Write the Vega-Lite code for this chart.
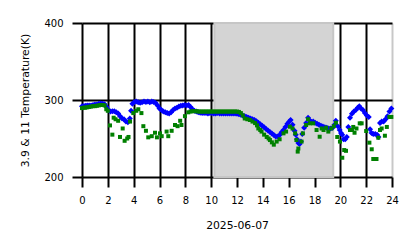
{
  "$schema": "https://vega.github.io/schema/vega-lite/v6.json",
  "width": 310,
  "height": 154,
  "autosize": {"type": "none"},
  "padding": {"left": 82, "top": 23, "right": 26, "bottom": 71},
  "background": "white",
  "config": {
    "view": {"stroke": null},
    "axis": {
      "grid": true, "gridWidth": 2, "domain": false,
      "tickSize": 10, "tickWidth": 2, "tickColor": "black",
      "labelFont": "DejaVu Sans", "labelFontSize": 10, "labelColor": "black",
      "labelFlush": false, "labelOverlap": false,
      "titleFont": "DejaVu Sans", "titleFontSize": 10.8, "titleFontWeight": "normal", "titleColor": "black",
      "zindex": 1
    }
  },
  "datasets": {
    "shade": [{"x1": 10.25, "x2": 19.45}],
    "pts": [
      {"s":"b","h":0.0,"t":292},{"s":"b","h":0.12,"t":292},{"s":"b","h":0.25,"t":292.5},{"s":"b","h":0.4,"t":293},{"s":"b","h":0.55,"t":293},{"s":"b","h":0.7,"t":293},{"s":"b","h":0.85,"t":293.5},{"s":"b","h":1.0,"t":294},{"s":"b","h":1.15,"t":294},{"s":"b","h":1.3,"t":295},{"s":"b","h":1.45,"t":295.5},{"s":"b","h":1.6,"t":295},{"s":"b","h":1.75,"t":294.5},{"s":"b","h":1.9,"t":291},{"s":"b","h":2.05,"t":287},{"s":"b","h":2.2,"t":285},{"s":"b","h":2.35,"t":285.5},{"s":"b","h":2.5,"t":285.5},{"s":"b","h":2.65,"t":284},{"s":"b","h":2.8,"t":282.5},{"s":"b","h":2.95,"t":279},{"s":"b","h":3.1,"t":276},{"s":"b","h":3.25,"t":275},{"s":"b","h":3.4,"t":272},{"s":"b","h":3.55,"t":271},{"s":"b","h":3.7,"t":276},{"s":"b","h":3.8,"t":286},{"s":"b","h":3.9,"t":295},{"s":"b","h":4.05,"t":297.5},{"s":"b","h":4.2,"t":298},{"s":"b","h":4.35,"t":297},{"s":"b","h":4.5,"t":296.5},{"s":"b","h":4.65,"t":297},{"s":"b","h":4.8,"t":298},{"s":"b","h":4.95,"t":297.5},{"s":"b","h":5.1,"t":298},{"s":"b","h":5.25,"t":297},{"s":"b","h":5.4,"t":298},{"s":"b","h":5.55,"t":297.5},{"s":"b","h":5.7,"t":296},{"s":"b","h":5.85,"t":293},{"s":"b","h":6.0,"t":289},{"s":"b","h":6.15,"t":287},{"s":"b","h":6.3,"t":285},{"s":"b","h":6.45,"t":284},{"s":"b","h":6.6,"t":283},{"s":"b","h":6.75,"t":282.5},{"s":"b","h":6.9,"t":284},{"s":"b","h":7.05,"t":287},{"s":"b","h":7.2,"t":289},{"s":"b","h":7.35,"t":290},{"s":"b","h":7.5,"t":291.5},{"s":"b","h":7.65,"t":292.5},{"s":"b","h":7.8,"t":293},{"s":"b","h":7.95,"t":293.5},{"s":"b","h":8.1,"t":293},{"s":"b","h":8.25,"t":293.5},{"s":"b","h":8.4,"t":291},{"s":"b","h":8.55,"t":288},{"s":"b","h":8.7,"t":286},{"s":"b","h":8.85,"t":285},{"s":"b","h":9.0,"t":284},{"s":"b","h":9.15,"t":283.5},{"s":"b","h":9.3,"t":283},{"s":"b","h":9.45,"t":283},{"s":"b","h":9.6,"t":283},{"s":"b","h":9.75,"t":282.5},{"s":"b","h":9.9,"t":283},{"s":"b","h":10.05,"t":283},{"s":"b","h":10.2,"t":282.5},{"s":"b","h":10.35,"t":282.5},{"s":"b","h":10.5,"t":283},{"s":"b","h":10.65,"t":282.5},{"s":"b","h":10.8,"t":282.5},{"s":"b","h":10.95,"t":282.5},{"s":"b","h":11.1,"t":282.5},{"s":"b","h":11.25,"t":282.5},{"s":"b","h":11.4,"t":282.5},{"s":"b","h":11.55,"t":282.5},{"s":"b","h":11.7,"t":282.5},{"s":"b","h":11.85,"t":282.5},{"s":"b","h":12.0,"t":282},{"s":"b","h":12.15,"t":281.5},{"s":"b","h":12.3,"t":281},{"s":"b","h":12.45,"t":280},{"s":"b","h":12.6,"t":279},{"s":"b","h":12.75,"t":278},{"s":"b","h":12.9,"t":277},{"s":"b","h":13.05,"t":276},{"s":"b","h":13.2,"t":275},{"s":"b","h":13.35,"t":274},{"s":"b","h":13.5,"t":272.5},{"s":"b","h":13.65,"t":270.5},{"s":"b","h":13.8,"t":268.5},{"s":"b","h":13.95,"t":266.5},{"s":"b","h":14.1,"t":264.5},{"s":"b","h":14.25,"t":262.5},{"s":"b","h":14.4,"t":260.5},{"s":"b","h":14.55,"t":258.5},{"s":"b","h":14.7,"t":256.5},{"s":"b","h":14.85,"t":254.5},{"s":"b","h":15.0,"t":252.5},{"s":"b","h":15.15,"t":252.5},{"s":"b","h":15.3,"t":254.5},{"s":"b","h":15.45,"t":258},{"s":"b","h":15.6,"t":261},{"s":"b","h":15.75,"t":265},{"s":"b","h":15.9,"t":269},{"s":"b","h":16.05,"t":272},{"s":"b","h":16.15,"t":274},{"s":"b","h":16.3,"t":268},{"s":"b","h":16.45,"t":260},{"s":"b","h":16.55,"t":255},{"s":"b","h":16.65,"t":249},{"s":"b","h":16.75,"t":244},{"s":"b","h":16.85,"t":243},{"s":"b","h":16.95,"t":246},{"s":"b","h":17.05,"t":256},{"s":"b","h":17.2,"t":264},{"s":"b","h":17.35,"t":270},{"s":"b","h":17.5,"t":277},{"s":"b","h":17.6,"t":274},{"s":"b","h":17.75,"t":271.5},{"s":"b","h":17.9,"t":272},{"s":"b","h":18.05,"t":270.5},{"s":"b","h":18.2,"t":269},{"s":"b","h":18.35,"t":268},{"s":"b","h":18.5,"t":266.5},{"s":"b","h":18.65,"t":265.5},{"s":"b","h":18.8,"t":264.5},{"s":"b","h":18.95,"t":264},{"s":"b","h":19.1,"t":263},{"s":"b","h":19.25,"t":263},{"s":"b","h":19.4,"t":264},{"s":"b","h":19.55,"t":268},{"s":"b","h":19.65,"t":273},{"s":"b","h":19.8,"t":266},{"s":"b","h":19.95,"t":261},{"s":"b","h":20.05,"t":257},{"s":"b","h":20.15,"t":255},{"s":"b","h":20.25,"t":249},{"s":"b","h":20.38,"t":249},{"s":"b","h":20.5,"t":252},{"s":"b","h":20.62,"t":265},{"s":"b","h":20.75,"t":277},{"s":"b","h":20.9,"t":282},{"s":"b","h":21.05,"t":285},{"s":"b","h":21.2,"t":287},{"s":"b","h":21.35,"t":290},{"s":"b","h":21.47,"t":292},{"s":"b","h":21.6,"t":289},{"s":"b","h":21.75,"t":287},{"s":"b","h":21.9,"t":283},{"s":"b","h":22.05,"t":280},{"s":"b","h":22.2,"t":278},{"s":"b","h":22.3,"t":262},{"s":"b","h":22.42,"t":257},{"s":"b","h":22.55,"t":256},{"s":"b","h":22.7,"t":256},{"s":"b","h":22.85,"t":255},{"s":"b","h":22.95,"t":252},{"s":"b","h":23.07,"t":270},{"s":"b","h":23.2,"t":272},{"s":"b","h":23.35,"t":272},{"s":"b","h":23.5,"t":275},{"s":"b","h":23.65,"t":279},{"s":"b","h":23.8,"t":285},{"s":"b","h":23.95,"t":289},
      {"s":"g","h":0.0,"t":289.5},{"s":"g","h":0.12,"t":290},{"s":"g","h":0.25,"t":290},{"s":"g","h":0.4,"t":290.5},{"s":"g","h":0.55,"t":291},{"s":"g","h":0.7,"t":291.5},{"s":"g","h":0.85,"t":292},{"s":"g","h":1.0,"t":292},{"s":"g","h":1.15,"t":292.5},{"s":"g","h":1.3,"t":293},{"s":"g","h":1.45,"t":293.5},{"s":"g","h":1.6,"t":293.5},{"s":"g","h":1.75,"t":293},{"s":"g","h":1.88,"t":288},{"s":"g","h":2.0,"t":286},{"s":"g","h":2.17,"t":267},{"s":"g","h":2.35,"t":255},{"s":"g","h":2.45,"t":277},{"s":"g","h":2.6,"t":275},{"s":"g","h":2.8,"t":273},{"s":"g","h":2.94,"t":252},{"s":"g","h":3.15,"t":263},{"s":"g","h":3.3,"t":247},{"s":"g","h":3.5,"t":250},{"s":"g","h":3.6,"t":252},{"s":"g","h":3.72,"t":272},{"s":"g","h":3.97,"t":283},{"s":"g","h":4.2,"t":286},{"s":"g","h":4.36,"t":288},{"s":"g","h":4.6,"t":283},{"s":"g","h":4.75,"t":266},{"s":"g","h":4.95,"t":260},{"s":"g","h":5.13,"t":251.5},{"s":"g","h":5.4,"t":253},{"s":"g","h":5.65,"t":257.5},{"s":"g","h":5.8,"t":251.5},{"s":"g","h":6.04,"t":256.7},{"s":"g","h":6.17,"t":253},{"s":"g","h":6.55,"t":259},{"s":"g","h":6.68,"t":253},{"s":"g","h":6.94,"t":260},{"s":"g","h":7.2,"t":267.5},{"s":"g","h":7.4,"t":266},{"s":"g","h":7.6,"t":273},{"s":"g","h":7.7,"t":267.5},{"s":"g","h":7.97,"t":279},{"s":"g","h":8.23,"t":284},{"s":"g","h":8.4,"t":285},{"s":"g","h":8.55,"t":285.5},{"s":"g","h":8.7,"t":285.5},{"s":"g","h":8.85,"t":285.5},{"s":"g","h":9.0,"t":285},{"s":"g","h":9.15,"t":285},{"s":"g","h":9.3,"t":285},{"s":"g","h":9.45,"t":285},{"s":"g","h":9.6,"t":285},{"s":"g","h":9.75,"t":285},{"s":"g","h":9.9,"t":285},{"s":"g","h":10.05,"t":285},{"s":"g","h":10.2,"t":285},{"s":"g","h":10.35,"t":285},{"s":"g","h":10.5,"t":285},{"s":"g","h":10.65,"t":285},{"s":"g","h":10.8,"t":285},{"s":"g","h":10.95,"t":285},{"s":"g","h":11.1,"t":285},{"s":"g","h":11.25,"t":285},{"s":"g","h":11.4,"t":285},{"s":"g","h":11.55,"t":285},{"s":"g","h":11.7,"t":285},{"s":"g","h":11.85,"t":285},{"s":"g","h":12.0,"t":285},{"s":"g","h":12.15,"t":284.5},{"s":"g","h":12.3,"t":283},{"s":"g","h":12.45,"t":280},{"s":"g","h":12.6,"t":276},{"s":"g","h":12.8,"t":275},{"s":"g","h":13.0,"t":274},{"s":"g","h":13.2,"t":272},{"s":"g","h":13.4,"t":270},{"s":"g","h":13.55,"t":267},{"s":"g","h":13.65,"t":263},{"s":"g","h":13.8,"t":261},{"s":"g","h":13.9,"t":259},{"s":"g","h":14.1,"t":255},{"s":"g","h":14.3,"t":252},{"s":"g","h":14.45,"t":250},{"s":"g","h":14.55,"t":248},{"s":"g","h":14.7,"t":245},{"s":"g","h":14.85,"t":242},{"s":"g","h":15.07,"t":246},{"s":"g","h":15.3,"t":249},{"s":"g","h":15.6,"t":256.7},{"s":"g","h":15.8,"t":259},{"s":"g","h":16.1,"t":265.3},{"s":"g","h":16.3,"t":263},{"s":"g","h":16.5,"t":256.7},{"s":"g","h":16.6,"t":248},{"s":"g","h":16.7,"t":233},{"s":"g","h":16.75,"t":237},{"s":"g","h":17.0,"t":246},{"s":"g","h":17.1,"t":256.7},{"s":"g","h":17.35,"t":267.5},{"s":"g","h":17.5,"t":275},{"s":"g","h":17.65,"t":269.7},{"s":"g","h":17.9,"t":269.7},{"s":"g","h":18.16,"t":261},{"s":"g","h":18.4,"t":252.3},{"s":"g","h":18.55,"t":263},{"s":"g","h":18.7,"t":261},{"s":"g","h":18.9,"t":264},{"s":"g","h":19.07,"t":259},{"s":"g","h":19.3,"t":263},{"s":"g","h":19.5,"t":266},{"s":"g","h":19.66,"t":270.5},{"s":"g","h":19.76,"t":252},{"s":"g","h":19.97,"t":246},{"s":"g","h":20.15,"t":225},{"s":"g","h":20.3,"t":235},{"s":"g","h":20.44,"t":234},{"s":"g","h":20.75,"t":261},{"s":"g","h":20.9,"t":261},{"s":"g","h":21.0,"t":265},{"s":"g","h":21.1,"t":257.5},{"s":"g","h":21.25,"t":263},{"s":"g","h":21.5,"t":269.7},{"s":"g","h":21.65,"t":269.7},{"s":"g","h":22.0,"t":259.7},{"s":"g","h":22.25,"t":244.6},{"s":"g","h":22.43,"t":236},{"s":"g","h":22.55,"t":223.4},{"s":"g","h":22.8,"t":223.4},{"s":"g","h":22.94,"t":251},{"s":"g","h":23.07,"t":261},{"s":"g","h":23.2,"t":263},{"s":"g","h":23.45,"t":253.6},{"s":"g","h":23.6,"t":265},{"s":"g","h":23.8,"t":278},{"s":"g","h":23.95,"t":278}
    ]
  },
  "layer": [
    {
      "data": {"name": "shade"},
      "mark": {"type": "rect", "fill": "#d4d4d4", "stroke": "#c6c6c6", "strokeWidth": 2},
      "encoding": {
        "x": {
          "field": "x1", "type": "quantitative",
          "scale": {"domain": [0, 24], "nice": false, "zero": false},
          "axis": {
            "values": [0, 2, 4, 6, 8, 10, 12, 14, 16, 18, 20, 22, 24],
            "title": "2025-06-07",
            "gridColor": {"condition": {"test": "datum.value === 24", "value": "#c8c8c8"}, "value": "black"},
            "labelPadding": 8, "titlePadding": 14
          }
        },
        "x2": {"field": "x2"}
      }
    },
    {
      "data": {"name": "pts"},
      "mark": {"type": "point", "filled": true, "opacity": 1, "strokeWidth": 0},
      "encoding": {
        "x": {
          "field": "h", "type": "quantitative",
          "scale": {"domain": [0, 24], "nice": false, "zero": false},
          "axis": {
            "values": [0, 2, 4, 6, 8, 10, 12, 14, 16, 18, 20, 22, 24],
            "title": "2025-06-07",
            "gridColor": {"condition": {"test": "datum.value === 24", "value": "#c8c8c8"}, "value": "black"},
            "labelPadding": 8, "titlePadding": 14
          }
        },
        "y": {
          "field": "t", "type": "quantitative",
          "scale": {"domain": [200, 400], "nice": false, "zero": false},
          "axis": {
            "values": [200, 300, 400],
            "title": "3.9 & 11 Temperature(K)",
            "gridColor": "black",
            "labelPadding": 9, "titlePadding": 13
          }
        },
        "color": {"field": "s", "type": "nominal", "scale": {"domain": ["b", "g"], "range": ["#0000ff", "#008000"]}, "legend": null},
        "shape": {"field": "s", "type": "nominal", "scale": {"domain": ["b", "g"], "range": ["diamond", "square"]}, "legend": null},
        "size": {"field": "s", "type": "nominal", "scale": {"domain": ["b", "g"], "range": [36, 16]}, "legend": null}
      }
    }
  ]
}
